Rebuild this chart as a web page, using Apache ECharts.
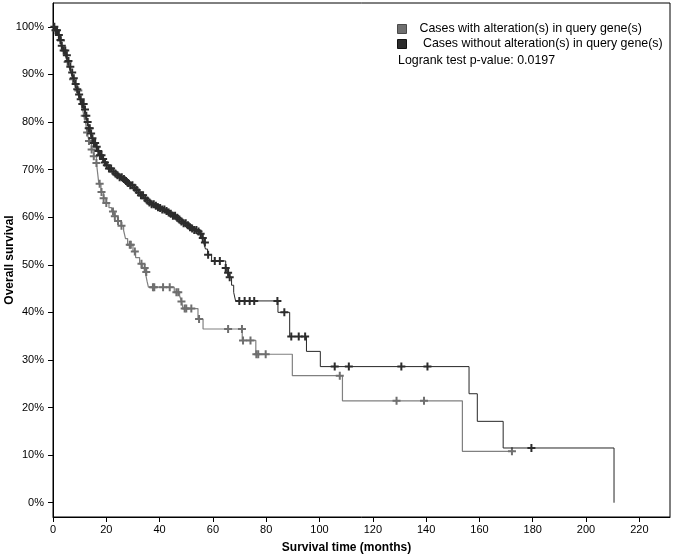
<!DOCTYPE html>
<html>
<head>
<meta charset="utf-8">
<script src="https://cdn.jsdelivr.net/npm/echarts@6/dist/echarts.min.js"></script>
<style>
html,body{margin:0;padding:0;background:#fff;}
#chart{width:677px;height:557px;}
</style>
</head>
<body>
<div id="chart"></div>
<script>
// ---- Data ----
var seriesNames = ['Cases with alteration(s) in query gene(s)', ' Cases without alteration(s) in query gene(s)'];
var pValueText = 'Logrank test p-value: 0.0197';
var xTicks = [0, 20, 40, 60, 80, 100, 120, 140, 160, 180, 200, 220];
var yTicks = [0, 10, 20, 30, 40, 50, 60, 70, 80, 90, 100];

// Kaplan-Meier steps: [months, survival %] (survival after the event at that time)
var alteredSteps = [
  [0,100],[0.8,99.3],[1.8,98.3],[2.6,97.1],[3.3,95.9],[4,94.9],[4.7,93.8],[5.4,92.6],[6.1,91.4],[6.8,90.2],
  [7.5,89],[8.2,87.8],[8.9,86.6],[9.6,85.4],[10.3,84.2],[11,82.8],[11.6,81.3],[12.2,79.8],[12.8,77.8],[13.5,76],
  [14.4,74.2],[15.3,72.8],[16.3,71.4],[16.8,69],[17.2,67],[18,65.3],[19,64],[20,63],[21,62],[22,61.2],
  [23,60.2],[24.2,59.2],[25.5,58.2],[26.5,57.2],[27.2,55.5],[28,54.2],[30,52.8],[31,51.5],[32.5,50.2],[33.5,49.3],
  [34.6,48.5],[35.3,46.5],[35.8,45.3],[45.5,44.2],[47.5,43.5],[48.2,42.3],[48.8,40.8],[54.4,38.6],[56.3,36.5],[71,34.1],
  [76.1,31.2],[89.8,26.7],[108.6,21.4],[153.6,10.8],[173,10.8]
];
var alteredCensored = [1,3,5.5,7.5,9.5,11.9,12.8,13.5,14.5,15.3,16.3,17.5,18.2,19,20,22.5,23.2,24.4,25.7,28.8,
  29.2,30.7,33.2,34.4,35,37.5,38,41.3,43.8,46.3,47,48.2,49.4,50,51.9,54.8,65.7,70.9,71.3,74.1,76.3,77,79.8,107.6,
  128.9,139.2,172.2];

var unalteredSteps = [
  [0,100],[0.8,99.3],[1.8,98.3],[2.6,97.2],[3.3,96],[4,95],[4.7,94],[5.4,92.8],[6.1,91.6],[6.8,90.4],
  [7.5,89.2],[8.2,88],[8.9,86.9],[9.6,85.8],[10.3,84.8],[11,83.8],[11.6,82.6],[12.2,81.3],[12.8,80],[13.4,78.7],
  [14,77.6],[14.6,76.6],[15.3,75.6],[16,74.8],[16.8,73.9],[17.6,73],[18.4,72.2],[19.2,71.5],[20,70.9],[21,70.2],
  [22,69.6],[23,69.2],[24,68.8],[25,68.4],[26,68],[27,67.6],[28,67.2],[29,66.7],[30,66.2],[31,65.7],
  [32,65.2],[33,64.6],[34,64],[35,63.5],[36,63.1],[37,62.7],[38,62.4],[39,62.1],[40,61.9],[41,61.6],
  [42,61.3],[43,61],[44,60.7],[45,60.3],[46,59.9],[47,59.5],[48,59.1],[49,58.7],[50,58.3],[51,57.9],
  [52,57.6],[53,57.3],[54,57],[55,56.5],[55.8,55.6],[56.5,54.7],[57.2,53.3],[58,52.1],[59.5,50.8],[64.8,49.3],
  [65.5,48.3],[66.2,47.4],[67,45.7],[67.8,44.2],[68.5,42.4],[84.4,40],[88.8,34.9],[95.1,31.8],[100.3,28.6],[156.1,22.9],
  [159.2,17.1],[168.9,11.5],[210.5,0]
];
var unalteredCensored = [0.5,1,1.5,2.2,2.8,3.3,4,4.6,5.2,5.8,6.5,7.2,7.8,8.5,9.1,9.8,10.4,11,11.5,12,
  12.5,13,13.4,13.8,14.3,14.8,15.3,15.8,16.4,17,17.6,18.2,18.8,19.5,20.2,21,21.8,22.6,23.4,24.2,
  25,25.8,26.6,27.4,28.2,29,29.8,30.6,31.4,32.2,33,33.8,34.6,35.4,36.2,37,37.8,38.6,39.4,40.2,
  41,41.8,42.6,43.4,44.2,45,45.8,46.6,47.4,48.2,49,49.8,50.6,51.4,52.2,53,53.8,54.6,55.4,56.2,
  57,58.2,60.7,62.6,64.8,65.7,66.3,69.9,71.9,73.8,75.5,84.2,86.8,89.4,92.2,94.6,105.7,111,130.7,140.5,179.5];

// ---- Helpers ----
function survAt(steps, t) {
  var v = steps[0][1];
  for (var i = 0; i < steps.length; i++) {
    if (steps[i][0] <= t) v = steps[i][1]; else break;
  }
  return v;
}
function censorPoints(steps, times) {
  return times.map(function (t) { return [t, survAt(steps, t)]; });
}

var FONT = "'Liberation Sans', Arial, Helvetica, sans-serif";
var PLUS = 'path://M3,0H5V3H8V5H5V8H3V5H0V3H3Z';
var GRAY_LINE = '#808080', GRAY_MARK = '#6f6f6f';
var DARK_LINE = '#262626', DARK_MARK = '#2c2c2c';

var chart = echarts.init(document.getElementById('chart'), null, {renderer: 'canvas'});
chart.setOption({
  animation: false,
  backgroundColor: '#fff',
  textStyle: {fontFamily: FONT},
  title: {
    text: pValueText,
    left: 398, top: 55, padding: 0,
    textStyle: {fontSize: 12.4, fontWeight: 'normal', color: '#000', fontFamily: FONT}
  },
  legend: {
    left: 397, top: 22, orient: 'vertical', itemGap: 1,
    itemWidth: 9, itemHeight: 9, icon: 'rect', selectedMode: false, padding: 0,
    textStyle: {fontSize: 12.4, color: '#000', fontFamily: FONT, padding: [0, 0, 0, 8], lineHeight: 14},
    data: [
      {name: seriesNames[0], itemStyle: {color: GRAY_MARK, borderColor: '#4a4a4a', borderWidth: 1}},
      {name: seriesNames[1], itemStyle: {color: DARK_MARK, borderColor: '#111', borderWidth: 1}}
    ]
  },
  grid: {
    left: 53, right: 7, top: 3, bottom: 40,
    outerBoundsMode: 'none', containLabel: false,
    show: true, borderColor: '#000', borderWidth: 1, backgroundColor: 'transparent'
  },
  xAxis: {
    type: 'value', min: 0, max: 231.5,
    name: 'Survival time (months)', nameLocation: 'middle', nameGap: 25, nameMoveOverlap: false,
    nameTextStyle: {fontSize: 12, fontWeight: 'bold', color: '#000', fontFamily: FONT, padding: [0, 30, 0, 0]},
    axisLine: {onZero: false, lineStyle: {color: '#000', width: 1}},
    axisTick: {show: true, length: 5, customValues: xTicks, lineStyle: {color: '#000'}},
    axisLabel: {customValues: xTicks, fontSize: 11, color: '#000', margin: 7, fontFamily: FONT},
    splitLine: {show: false}
  },
  yAxis: {
    type: 'value', min: -3, max: 105,
    name: 'Overall survival', nameLocation: 'middle', nameGap: 37, nameMoveOverlap: false,
    nameTextStyle: {fontSize: 12, fontWeight: 'bold', color: '#000', fontFamily: FONT},
    axisLine: {show: true, onZero: false, lineStyle: {color: '#000', width: 1}},
    axisTick: {show: true, length: 5, customValues: yTicks, lineStyle: {color: '#000'}},
    axisLabel: {customValues: yTicks, formatter: '{value}%', fontSize: 11, color: '#000', margin: 9, fontFamily: FONT},
    splitLine: {show: false}
  },
  series: [
    {
      name: seriesNames[0], type: 'line', step: 'end', data: alteredSteps,
      symbol: 'none', showSymbol: false, z: 2,
      itemStyle: {color: GRAY_MARK},
      lineStyle: {color: GRAY_LINE, width: 1.2}
    },
    {
      name: 'altered-censored', type: 'scatter', data: censorPoints(alteredSteps, alteredCensored),
      symbol: PLUS, symbolSize: 8, z: 3,
      itemStyle: {color: GRAY_MARK, opacity: 1}
    },
    {
      name: seriesNames[1], type: 'line', step: 'end', data: unalteredSteps,
      symbol: 'none', showSymbol: false, z: 4,
      itemStyle: {color: DARK_MARK},
      lineStyle: {color: DARK_LINE, width: 1}
    },
    {
      name: 'unaltered-censored', type: 'scatter', data: censorPoints(unalteredSteps, unalteredCensored),
      symbol: PLUS, symbolSize: 8, z: 5,
      itemStyle: {color: DARK_MARK, opacity: 1}
    }
  ]
});
</script>
</body>
</html>
